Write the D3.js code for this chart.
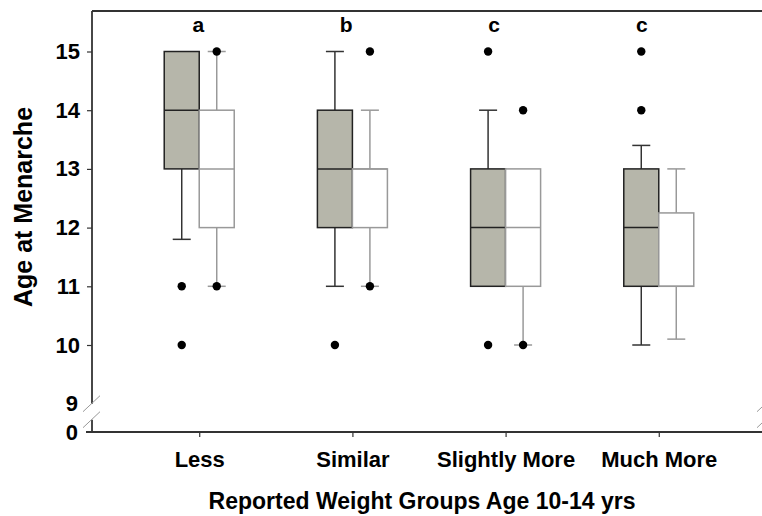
<!DOCTYPE html>
<html><head><meta charset="utf-8">
<script src="https://cdn.jsdelivr.net/npm/d3@7"></script>
<style>body{margin:0;background:#fff}svg{display:block}text{font-family:"Liberation Sans",Arial,sans-serif;font-weight:bold;fill:#000}</style>
</head><body>
<script>
const categories = ["Less", "Similar", "Slightly More", "Much More"];
const letters = ["a", "b", "c", "c"];
const yTicks = [10, 11, 12, 13, 14, 15];
// box stats per category: [whiskerLow, q1, median, q3, whiskerHigh]
const grayStats = [
  [11.8, 13, 14, 15, 15],
  [11, 12, 13, 14, 15],
  [11, 11, 12, 13, 14],
  [10, 11, 12, 13, 13.4]
];
const grayOutliers = [[11, 10], [10], [15, 10], [15, 14]];
const whiteStats = [
  [11, 12, 13, 14, 15],
  [11, 12, 13, 13, 14],
  [10, 11, 12, 13, 13],
  [10.1, 11, 11, 12.25, 13]
];
const whiteOutliers = [[15, 11], [15, 11], [14, 10], []];

(function () {
const W = 762, H = 516;
const mLeft = 92, mRight = 766, mTop = 11, mBottom = 432;
const svg = d3.select("body").append("svg").attr("width", W).attr("height", H);

const x = d3.scalePoint().domain(categories).range([mLeft, mRight]).padding(0.7);
const sub = d3.scaleBand().domain(["gray", "white"]).range([-35, 35]);
const y = d3.scaleLinear().domain([9, 15.69]).range([403.7, mTop]);
const yZero = mBottom;

// frame
const frameColor = "#333";
svg.append("line").attr("x1", mLeft).attr("x2", mRight).attr("y1", mTop).attr("y2", mTop).attr("stroke", frameColor).attr("stroke-width", 1.8);
svg.append("line").attr("x1", mLeft - 6).attr("x2", mRight).attr("y1", mBottom).attr("y2", mBottom).attr("stroke", frameColor).attr("stroke-width", 1.8);
[mLeft, mRight].forEach(ax => {
  svg.append("line").attr("x1", ax).attr("x2", ax).attr("y1", mTop).attr("y2", y(9)).attr("stroke", frameColor).attr("stroke-width", 1.8);
  svg.append("line").attr("x1", ax).attr("x2", ax).attr("y1", y(9) + 16).attr("y2", mBottom).attr("stroke", frameColor).attr("stroke-width", 1.8);
  [y(9), y(9) + 16].forEach(cy => {
    svg.append("line").attr("x1", ax - 9).attr("x2", ax + 8).attr("y1", cy + 8).attr("y2", cy - 8)
      .attr("stroke", "#999").attr("stroke-width", 1);
  });
});

// y axis ticks and labels
const yAxis = d3.axisLeft(y).tickValues(yTicks).tickSize(5).tickPadding(7).tickFormat(d3.format("d"));
const gy = svg.append("g").attr("transform", `translate(${mLeft},0)`).call(yAxis);
gy.select(".domain").remove();
gy.selectAll(".tick line").attr("stroke", frameColor).attr("stroke-width", 1.2);
gy.selectAll(".tick text").style("font-size", "22px").attr("fill", "#000");
svg.append("text").attr("x", mLeft - 14).attr("y", y(9)).attr("dy", "0.35em").attr("text-anchor", "end").style("font-size", "22px").text("9");
svg.append("text").attr("x", mLeft - 14).attr("y", yZero).attr("dy", "0.35em").attr("text-anchor", "end").style("font-size", "22px").text("0");

// x axis
const xAxis = d3.axisBottom(x).tickSize(5).tickPadding(14);
const gx = svg.append("g").attr("transform", `translate(0,${mBottom})`).call(xAxis);
gx.select(".domain").remove();
gx.selectAll(".tick line").attr("stroke", frameColor).attr("stroke-width", 1.2);
gx.selectAll(".tick text").style("font-size", "22px").attr("fill", "#000");

svg.append("text").attr("x", 422).attr("y", 509).attr("text-anchor", "middle").style("font-size", "23px").text("Reported Weight Groups Age 10-14 yrs");
svg.append("text").attr("transform", `translate(32,${207}) rotate(-90)`).attr("text-anchor", "middle").style("font-size", "25px").text("Age at Menarche");

// boxes
function drawSeries(stats, outliers, key, fill, stroke, whiskerColor) {
  const bw = sub.bandwidth();
  const g = svg.append("g");
  stats.forEach((s, i) => {
    const x0 = x(categories[i]) + sub(key);
    const cx = x0 + bw / 2;
    const [lo, q1, med, q3, hi] = s;
    if (hi > q3) {
      g.append("line").attr("x1", cx).attr("x2", cx).attr("y1", y(q3)).attr("y2", y(hi)).attr("stroke", whiskerColor).attr("stroke-width", 1.5);
      g.append("line").attr("x1", cx - 9).attr("x2", cx + 9).attr("y1", y(hi)).attr("y2", y(hi)).attr("stroke", whiskerColor).attr("stroke-width", 1.5);
    }
    if (lo < q1) {
      g.append("line").attr("x1", cx).attr("x2", cx).attr("y1", y(q1)).attr("y2", y(lo)).attr("stroke", whiskerColor).attr("stroke-width", 1.5);
      g.append("line").attr("x1", cx - 9).attr("x2", cx + 9).attr("y1", y(lo)).attr("y2", y(lo)).attr("stroke", whiskerColor).attr("stroke-width", 1.5);
    }
    g.append("rect").attr("x", x0).attr("width", bw).attr("y", y(q3)).attr("height", y(q1) - y(q3))
      .attr("fill", fill).attr("stroke", stroke).attr("stroke-width", 1.5);
    g.append("line").attr("x1", x0).attr("x2", x0 + bw).attr("y1", y(med)).attr("y2", y(med)).attr("stroke", stroke).attr("stroke-width", 1.5);
    outliers[i].forEach(v => {
      g.append("circle").attr("cx", cx).attr("cy", y(v)).attr("r", 4.2).attr("fill", "#000");
    });
  });
}
drawSeries(grayStats, grayOutliers, "gray", "#b6b6aa", "#222", "#333");
drawSeries(whiteStats, whiteOutliers, "white", "#fff", "#999", "#999");

// significance letters
letters.forEach((l, i) => {
  svg.append("text").attr("x", x(categories[i]) - 1 - 5.3 * i).attr("y", 32).attr("text-anchor", "middle").style("font-size", "21px").text(l);
});
})();
</script>
</body></html>
